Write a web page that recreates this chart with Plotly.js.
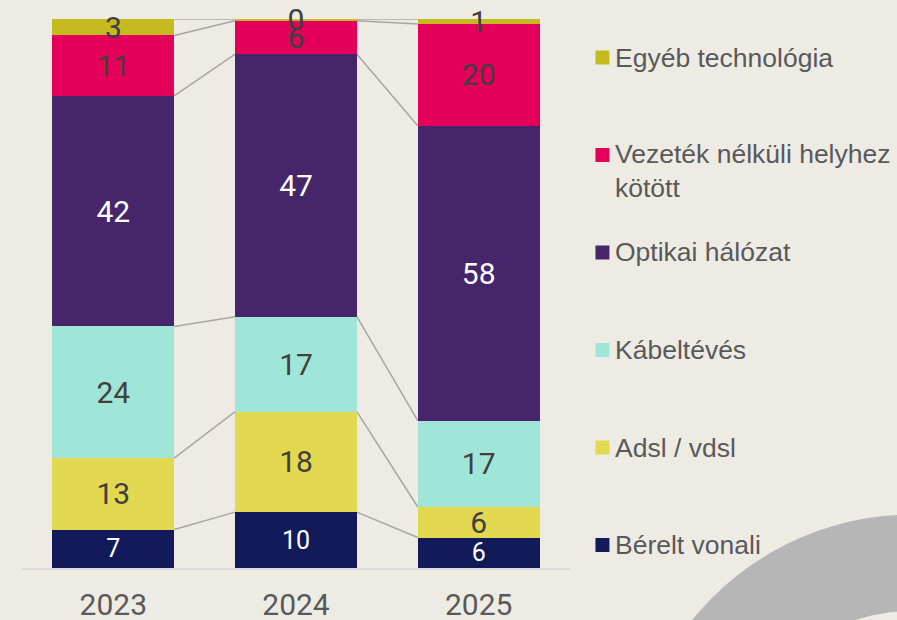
<!DOCTYPE html>
<html><head><meta charset="utf-8">
<script src="https://cdn.plot.ly/plotly-3.0.1.min.js"></script>
<style>html,body{margin:0;padding:0;background:#EEEBE5;overflow:hidden}</style>
</head><body><div id="chart" style="width:897px;height:620px"></div>
<script>
// ---- data ----
const years = ['2023', '2024', '2025'];
const seriesNames = ['Bérelt vonali', 'Adsl / vdsl', 'Kábeltévés', 'Optikai hálózat', 'Vezeték nélküli helyhez<br>kötött', 'Egyéb technológia'];
const berelt  = [7, 10, 6];
const adsl    = [13, 18, 6];
const kabel   = [24, 17, 17];
const optikai = [42, 47, 58];
const vezetek = [11, 6, 20];
const egyeb   = [3, 0.3, 1];

// ---- styles ----
const seriesColors = ['#121A5A', '#E2D951', '#A0E6D8', '#46256A', '#E4005A', '#C5BB20'];
const labelColors  = ['#FFFFFF', '#404040', '#404040', '#FFFFFF', '#404040', '#404040'];
const labelSizes   = [25, 30, 30, 30, 30, 30];

const series = [berelt, adsl, kabel, optikai, vezetek, egyeb];

// page geometry
const W = 897, H = 620, ML = 21.5, MR = 326.5, MT = 19, MB = 52;
const PW = W - ML - MR, PH = H - MT - MB;
const px2x = p => (p - ML) / PW;
const py2y = p => (H - MB - p) / PH;

const traces = series.map((vals, i) => ({
  type: 'bar',
  name: seriesNames[i],
  x: years,
  y: vals,
  text: vals.map(v => String(Math.round(v))),
  textposition: 'inside',
  insidetextanchor: 'middle',
  constraintext: 'none',
  cliponaxis: false,
  textangle: 0,
  textfont: {family: 'Roboto, sans-serif', size: labelSizes[i], color: labelColors[i]},
  marker: {color: seriesColors[i], line: {width: 0}},
  hoverinfo: 'name+text'
}));

// connector lines between stacked segment boundaries (percent space)
const totals = years.map((_, j) => series.reduce((s, arr) => s + arr[j], 0));
const cum = [];
for (let k = 1; k <= series.length; k++) {
  cum.push(years.map((_, j) => {
    let s = 0; for (let i = 0; i < k; i++) s += series[i][j];
    return s / totals[j] * 100;
  }));
}
const half = 1 / 3;
const shapes = [];
cum.forEach(c => {
  for (let j = 0; j < years.length - 1; j++) {
    shapes.push({type: 'line', xref: 'x', yref: 'y', layer: 'below',
      x0: j + half, x1: j + 1 - half, y0: c[j], y1: c[j + 1],
      line: {color: '#A6A6A6', width: 1.5}});
  }
});

// decorative arc bottom right
(function () {
  const cx = 914, cy = 799, ro = 284.5, ri = 188;
  const n = 60; let d = '';
  for (let t = 0; t <= n; t++) {
    const a = Math.PI + (Math.PI / 2) * t / n;
    const x = px2x(cx + ro * Math.cos(a)), y = py2y(cy + ro * Math.sin(a));
    d += (t === 0 ? 'M' : 'L') + x.toFixed(5) + ',' + y.toFixed(5);
  }
  for (let t = n; t >= 0; t--) {
    const a = Math.PI + (Math.PI / 2) * t / n;
    const x = px2x(cx + ri * Math.cos(a)), y = py2y(cy + ri * Math.sin(a));
    d += 'L' + x.toFixed(5) + ',' + y.toFixed(5);
  }
  d += 'Z';
  shapes.push({type: 'path', xref: 'paper', yref: 'paper', layer: 'below', path: d,
    fillcolor: '#B5B6B5', line: {width: 0}});
})();

// custom legend (top = last series)
const annotations = [];
const legendTop = 57.5, legendStep = 97.5;
for (let r = 0; r < series.length; r++) {
  const i = series.length - 1 - r;
  const cy = legendTop + r * legendStep;
  shapes.push({type: 'rect', xref: 'paper', yref: 'paper', layer: 'above',
    x0: px2x(596), x1: px2x(610), y0: py2y(cy + 7), y1: py2y(cy - 7),
    fillcolor: seriesColors[i], line: {width: 0}});
  const multi = seriesNames[i].indexOf('<br>') >= 0;
  annotations.push({xref: 'paper', yref: 'paper', x: px2x(614), y: py2y(multi ? cy - 18 : cy),
    xanchor: 'left', yanchor: multi ? 'top' : 'middle', align: 'left', showarrow: false,
    text: seriesNames[i],
    font: {family: 'Arial, Liberation Sans, sans-serif', size: 26.5, color: '#595959'}});
}

const layout = {
  width: W, height: H,
  paper_bgcolor: '#EEEBE5', plot_bgcolor: 'rgba(0,0,0,0)',
  margin: {l: ML, r: MR, t: MT, b: MB, pad: 0},
  barmode: 'stack', barnorm: 'percent', bargap: 1 / 3,
  showlegend: false,
  xaxis: {type: 'category', showline: true, linecolor: '#D9D9D9', linewidth: 1.5,
    ticks: '', showgrid: false, zeroline: false, ticklabelstandoff: 9,
    tickfont: {family: 'Roboto, sans-serif', size: 30, color: '#595959'}},
  yaxis: {range: [0, 100], visible: false, showgrid: false, zeroline: false},
  shapes: shapes,
  annotations: annotations
};

Plotly.newPlot('chart', traces, layout, {displayModeBar: false, staticPlot: true});
</script></body></html>
